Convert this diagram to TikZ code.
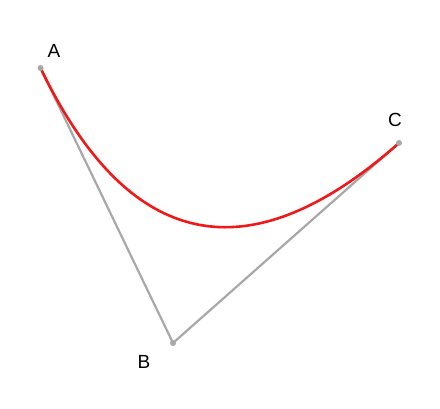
\documentclass[tikz,border=0pt]{standalone}
\usepackage{fontspec}
\setmainfont{Liberation Sans}
\usetikzlibrary{calc}
\definecolor{ctrlgray}{gray}{0.66}
\definecolor{curvered}{HTML}{F01818}

\begin{document}
\begin{tikzpicture}[
  x=1pt, y=-1pt,
  pt/.style={circle, fill=ctrlgray, inner sep=0pt, minimum size=6pt},
  lbl/.style={font=\fontsize{19}{19}\selectfont, inner sep=0pt},
  hull/.style={draw=ctrlgray, line width=2.2pt},
]
  \useasboundingbox (0,0) rectangle (440,409);

  % control points
  \coordinate (A) at (40.5,68);
  \coordinate (B) at (173,343);
  \coordinate (C) at (399,143);

  % hull
  \draw[hull] (A) -- (B) -- (C);

  % quadratic curve
  \draw[curvered, line width=2.6pt]
    (A) .. controls ($(A)!2/3!(B)$) and ($(C)!2/3!(B)$) .. (C);

  % dots on top
  \node[pt] (dotA) at (A) {};
  \node[pt] (dotB) at (B) {};
  \node[pt] (dotC) at (C) {};

  % labels
  \node[lbl] (labA) at (54,51) {A};
  \node[lbl] (labB) at (144,362) {B};
  \node[lbl] (labC) at (395,120) {C};
\end{tikzpicture}
\end{document}
